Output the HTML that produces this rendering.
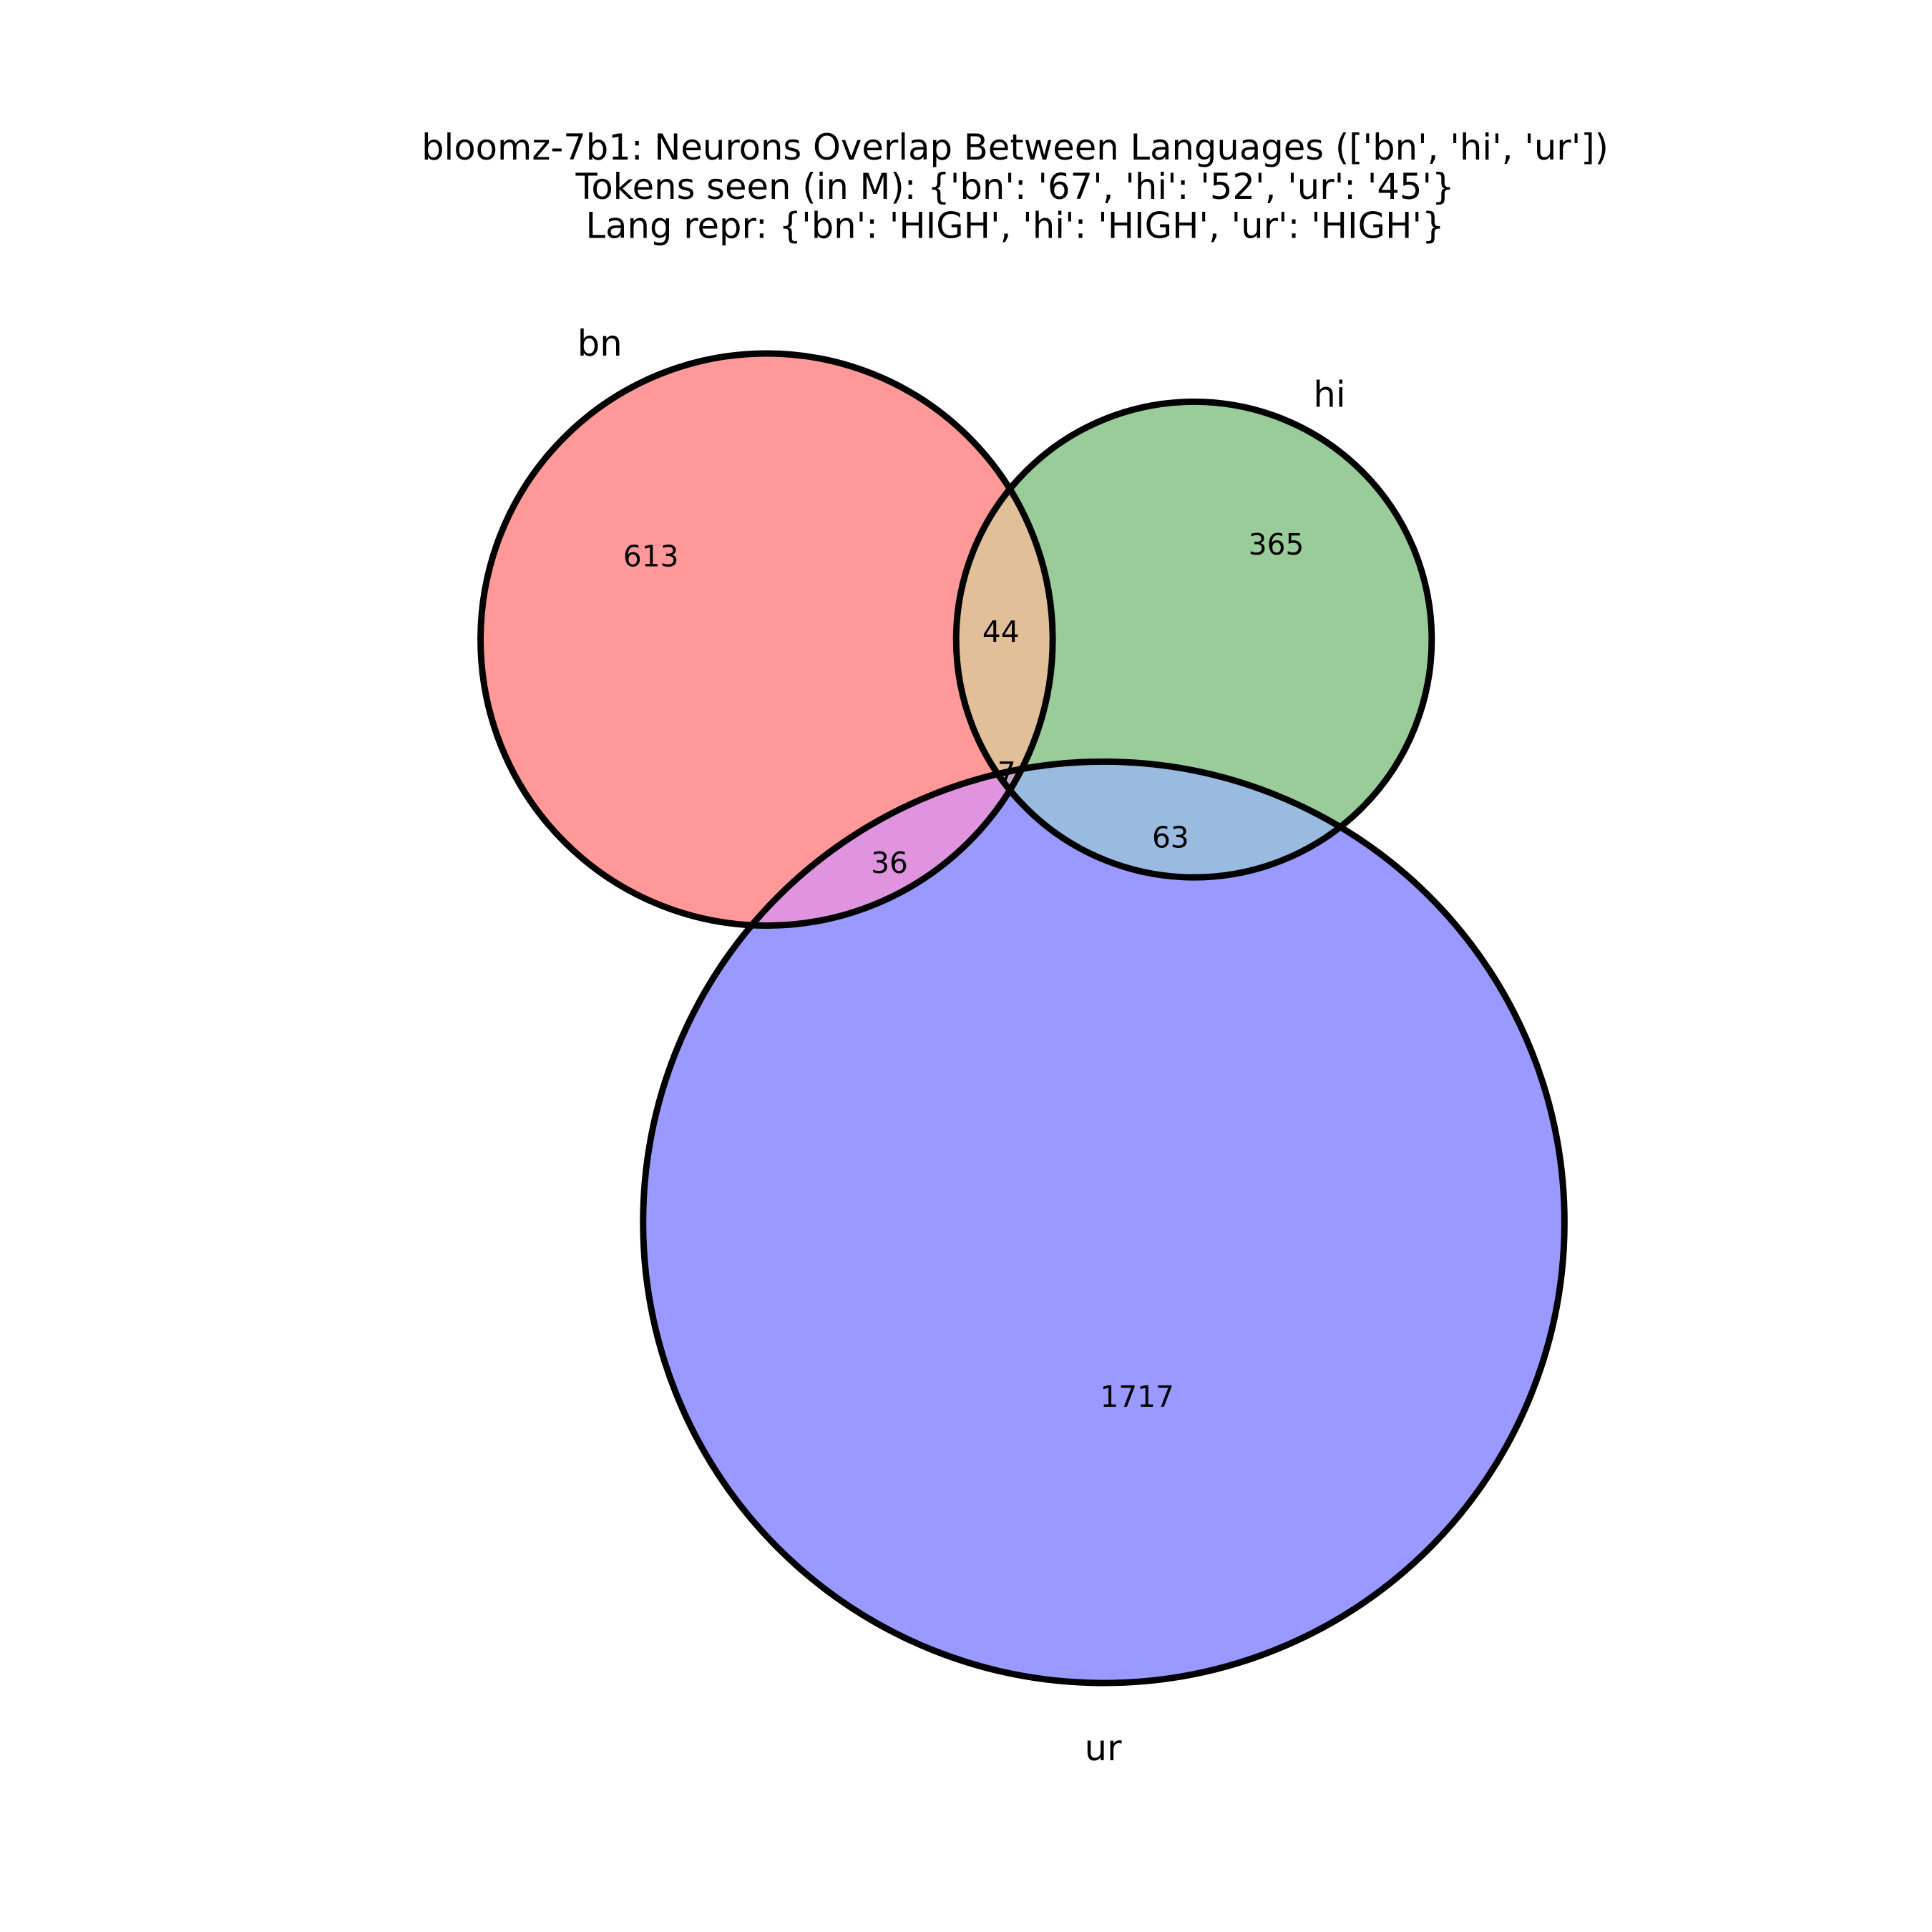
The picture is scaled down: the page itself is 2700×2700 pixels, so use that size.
<!DOCTYPE html>
<html><head><meta charset="utf-8"><style>
html,body{margin:0;padding:0;background:#fff}
svg{display:block}
text{font-family:"DejaVu Sans","Liberation Sans",sans-serif;fill:#000}
</style></head><body>
<svg id="chart" width="2700" height="2700" viewBox="0 0 2700 2700" xmlns="http://www.w3.org/2000/svg">
<rect width="2700" height="2700" fill="#fff"/>
<defs>
<clipPath id="cA"><circle cx="1080" cy="901" r="403"/></clipPath>
<clipPath id="cB"><circle cx="1682" cy="901" r="335"/></clipPath>
<clipPath id="cC"><circle cx="1555" cy="1722" r="649"/></clipPath>
</defs>
<g transform="scale(0.992)">
<g font-size="50" text-anchor="middle">
<text x="1430" y="225">bloomz-7b1: Neurons Overlap Between Languages (['bn', 'hi', 'ur'])</text>
<text x="1430" y="280">Tokens seen (in M): {'bn': '67', 'hi': '52', 'ur': '45'}</text>
<text x="1430" y="335">Lang repr: {'bn': 'HIGH', 'hi': 'HIGH', 'ur': 'HIGH'}</text>
</g>
<g id="regions"></g>
<g id="outlines"></g>
<g id="labels"></g>
</g>
</svg>
<script>
const setNames = ['bn', 'hi', 'ur'];
const regionKeys = ['100', '010', '001', '110', '101', '011', '111'];
const regionCounts = [613, 365, 1717, 44, 36, 63, 7];
const NS = 'http://www.w3.org/2000/svg';
const circles = [{cx:1080,cy:901,r:403,clip:'cA'},{cx:1682,cy:901,r:335,clip:'cB'},{cx:1555,cy:1722,r:649,clip:'cC'}];
const regionColor = {'100':'#ff9999','010':'#99cc99','001':'#9999ff','110':'#e1bf99','101':'#e094e0','011':'#99bbe0','111':'#c0aac8'};
const regionPos = {'100':[917,783],'010':[1798,766],'001':[1602,1967],'110':[1410,889],'101':[1253,1215],'011':[1649,1179],'111':[1418,1088]};
const labelPos = [[845,483],[1873,555],[1554,2462]];
const regions = document.getElementById('regions');
regionKeys.forEach(function(k){
  const inc = [], exc = [];
  for (let i=0;i<3;i++){ (k[i]==='1'?inc:exc).push(i); }
  const g = document.createElementNS(NS,'g');
  
  
  regions.appendChild(g);
  let parent = g;
  for (let j=1;j<inc.length;j++){
    const cg = document.createElementNS(NS,'g');
    cg.setAttribute('clip-path','url(#'+circles[inc[j]].clip+')');
    parent.appendChild(cg); parent = cg;
  }
  const c = circles[inc[0]];
  const mask = 'm'+k;
  const m = document.createElementNS(NS,'mask'); m.setAttribute('id',mask);
  m.setAttribute('maskUnits','userSpaceOnUse');
  m.setAttribute('x','0'); m.setAttribute('y','0'); m.setAttribute('width','2800'); m.setAttribute('height','2800');
  const mr = document.createElementNS(NS,'rect'); mr.setAttribute('width','2800'); mr.setAttribute('height','2800'); mr.setAttribute('fill','#fff'); m.appendChild(mr);
  exc.forEach(function(e){ const ec=document.createElementNS(NS,'circle'); ec.setAttribute('cx',circles[e].cx); ec.setAttribute('cy',circles[e].cy); ec.setAttribute('r',circles[e].r); ec.setAttribute('fill','#000'); m.appendChild(ec); });
  document.querySelector('defs').appendChild(m);
  const p = document.createElementNS(NS,'circle');
  p.setAttribute('cx',c.cx); p.setAttribute('cy',c.cy); p.setAttribute('r',c.r);
  p.setAttribute('fill',regionColor[k]); p.setAttribute('mask','url(#'+mask+')');
  
  
  parent.appendChild(p);
});
const outlines = document.getElementById('outlines');
circles.forEach(function(c,i){
  const o = document.createElementNS(NS,'circle');
  o.setAttribute('cx',c.cx); o.setAttribute('cy',c.cy); o.setAttribute('r',c.r);
  o.setAttribute('fill','none'); o.setAttribute('stroke','#000'); o.setAttribute('stroke-width','9');
  
  
  outlines.appendChild(o);
});
const labels = document.getElementById('labels');
regionKeys.forEach(function(k,i){
  const t = document.createElementNS(NS,'text');
  t.setAttribute('x',regionPos[k][0]); t.setAttribute('y',regionPos[k][1]+15);
  t.setAttribute('font-size','41'); t.setAttribute('text-anchor','middle');
  
  
  t.textContent = String(regionCounts[i]);
  labels.appendChild(t);
});
setNames.forEach(function(n,i){
  const t = document.createElementNS(NS,'text');
  t.setAttribute('x',labelPos[i][0]); t.setAttribute('y',labelPos[i][1]+18);
  t.setAttribute('font-size','50'); t.setAttribute('text-anchor','middle');
  
  
  t.textContent = n;
  labels.appendChild(t);
});
</script>
</body></html>
